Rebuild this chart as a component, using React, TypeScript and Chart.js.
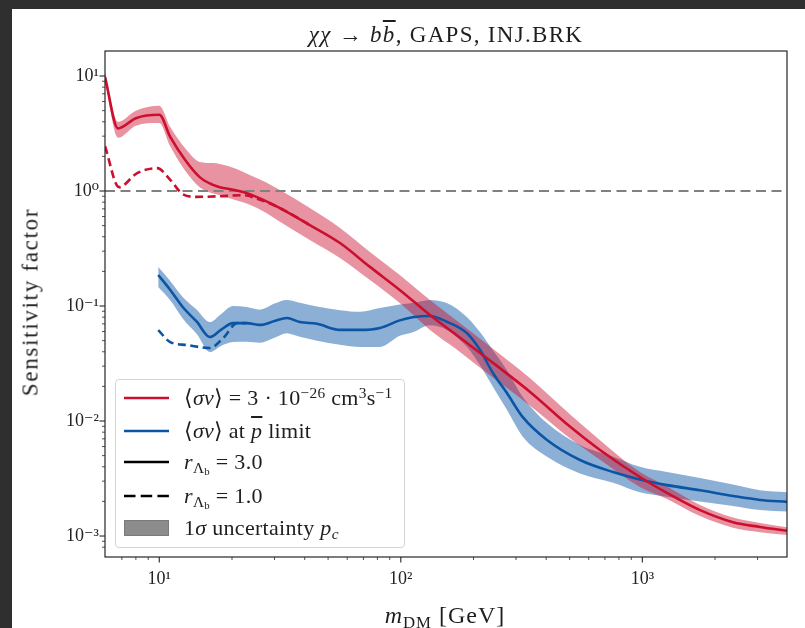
import React, { useEffect, useRef } from 'react';
import { Chart, registerables } from 'chart.js';

Chart.register(...registerables);

// ---- axis ranges ----
const X_MIN = 5.96;
const X_MAX = 3972;
const Y_MIN = 6.57e-4;
const Y_MAX = 16.5;

// ---- labelled major ticks ----
const xMajorTicks = [10, 100, 1000];
const yMajorTicks = [1e-3, 1e-2, 1e-1, 1, 10];

// ---- red: <σv> = 3e-26, r = 3.0 (solid) with 1σ band ----
const redX = [5.96, 6.75, 8.0, 10.0, 11.1, 12.8, 14.7, 16.7, 17.8, 20.5, 23.7, 27.5, 31.6, 42, 56, 74.5, 99, 132, 170, 213, 343, 500, 668, 977, 1265, 1734, 2373, 3070, 3972];
const redY = [9.8, 3.5, 4.3, 4.6, 2.95, 1.86, 1.32, 1.13, 1.08, 1.02, 0.94, 0.82, 0.71, 0.506, 0.353, 0.219, 0.138, 0.0835, 0.056, 0.039, 0.0179, 0.009, 0.0056, 0.00326, 0.00237, 0.00168, 0.00132, 0.0012, 0.00111];
const redUp = [10.8, 4.0, 5.0, 5.5, 3.6, 2.35, 1.79, 1.75, 1.72, 1.58, 1.38, 1.2, 1.02, 0.71, 0.477, 0.295, 0.186, 0.113, 0.075, 0.052, 0.0235, 0.0115, 0.0068, 0.0036, 0.0027, 0.00186, 0.00145, 0.0013, 0.00119];
const redLo = [8.9, 2.9, 3.7, 3.9, 2.45, 1.5, 1.08, 0.95, 0.92, 0.84, 0.76, 0.65, 0.54, 0.375, 0.262, 0.168, 0.106, 0.062, 0.042, 0.029, 0.0136, 0.0071, 0.0046, 0.00267, 0.0021, 0.00149, 0.00118, 0.00108, 0.00102];

// ---- red: r = 1.0 (dashed) ----
const redDashX = [5.96, 6.81, 8.1, 9.8, 11.1, 12.5, 14.3, 17.8, 22.2, 26.1, 31.6, 42];
const redDashY = [2.45, 1.08, 1.43, 1.58, 1.25, 0.94, 0.89, 0.9, 0.92, 0.84, 0.71, 0.506];

// ---- blue: <σv> at pbar limit, r = 3.0 (solid) with 1σ band ----
const blueX = [9.9, 11.1, 12.5, 14.3, 16.2, 18.0, 20.2, 23, 26.1, 30, 33.7, 38.2, 45, 56, 68, 82, 99, 112, 132, 155, 188, 213, 241, 275, 320, 403, 552, 757, 977, 1265, 1734, 2373, 3070, 3972];
const blueY = [0.186, 0.138, 0.098, 0.073, 0.0537, 0.062, 0.071, 0.071, 0.0685, 0.074, 0.0787, 0.0725, 0.07, 0.062, 0.062, 0.0645, 0.075, 0.08, 0.082, 0.073, 0.058, 0.0414, 0.026, 0.0175, 0.0108, 0.00684, 0.00458, 0.0036, 0.0031, 0.00277, 0.0025, 0.00223, 0.00206, 0.00198];
const blueUp = [0.218, 0.165, 0.12, 0.093, 0.0726, 0.085, 0.1, 0.098, 0.093, 0.105, 0.113, 0.107, 0.099, 0.092, 0.089, 0.096, 0.103, 0.106, 0.113, 0.106, 0.08, 0.059, 0.041, 0.0277, 0.0162, 0.0096, 0.0062, 0.0049, 0.004, 0.0036, 0.0032, 0.0028, 0.0025, 0.0024];
const blueLo = [0.146, 0.112, 0.078, 0.057, 0.0398, 0.045, 0.0486, 0.049, 0.048, 0.053, 0.058, 0.054, 0.05, 0.046, 0.044, 0.044, 0.055, 0.059, 0.068, 0.062, 0.044, 0.0306, 0.0198, 0.0125, 0.0073, 0.0049, 0.0035, 0.0029, 0.0024, 0.0022, 0.002, 0.00182, 0.00168, 0.00163];

// ---- blue: r = 1.0 (dashed) ----
const blueDashX = [9.9, 11.1, 13, 16.2, 18.4, 21, 23];
const blueDashY = [0.0618, 0.0486, 0.0458, 0.0431, 0.0527, 0.071, 0.071];

// ---- reference line ----
const refX = [X_MIN, X_MAX];
const refY = [1, 1];

const RED = '#cc0f2f';
const RED_BAND = 'rgba(204, 15, 47, 0.45)';
const BLUE = '#0a56a5';
const BLUE_BAND = 'rgba(10, 86, 165, 0.47)';
const FONT = '"Liberation Serif", "DejaVu Serif", serif';

const SUP: Record<string, string> = { '-': '⁻', '0': '⁰', '1': '¹', '2': '²', '3': '³', '4': '⁴', '5': '⁵', '6': '⁶', '7': '⁷', '8': '⁸', '9': '⁹' };
const sup = (n: number) => String(n).split('').map((c) => SUP[c] || c).join('');

const pts = (xs: number[], ys: number[]) => xs.map((x, i) => ({ x, y: ys[i] }));

const decadeLabel = (majors: number[]) => (value: any) => {
  const v = Number(value);
  const hit = majors.find((m) => Math.abs(v / m - 1) < 1e-6);
  if (hit === undefined) return '';
  return '10' + sup(Math.round(Math.log10(hit)));
};

const framePlugin = {
  id: 'frameTicks',
  afterDatasetsDraw(chart: any) {
    const { ctx, chartArea: a, scales } = chart;
    ctx.save();
    ctx.strokeStyle = '#262626';
    ctx.lineWidth = 1.2;
    ctx.strokeRect(a.left, a.top, a.right - a.left, a.bottom - a.top);
    const draw = (scale: any, horizontal: boolean) => {
      scale.ticks.forEach((t: any) => {
        const v = t.value;
        const e = Math.floor(Math.log10(v) + 1e-9);
        const sig = v / Math.pow(10, e);
        if (Math.abs(sig - Math.round(sig)) > 1e-6) return;
        const major = Math.abs(sig - 1) < 1e-6 || Math.abs(sig - 10) < 1e-6;
        const len = major ? 5.5 : 3;
        ctx.lineWidth = major ? 1.1 : 0.8;
        const p = scale.getPixelForValue(v);
        if (horizontal && (p < a.left + 1 || p > a.right - 1)) return;
        if (!horizontal && (p < a.top + 1 || p > a.bottom - 1)) return;
        ctx.beginPath();
        if (horizontal) {
          ctx.moveTo(p, a.bottom);
          ctx.lineTo(p, a.bottom + len);
        } else {
          ctx.moveTo(a.left, p);
          ctx.lineTo(a.left - len, p);
        }
        ctx.stroke();
      });
    };
    draw(scales.x, true);
    draw(scales.y, false);
    ctx.restore();
  },
};

const subStyle: React.CSSProperties = { fontSize: '0.7em', verticalAlign: '-0.28em', lineHeight: 0 };
const supStyle: React.CSSProperties = { fontSize: '0.7em', verticalAlign: '0.45em', lineHeight: 0 };

function LineHandle({ color, dash }: { color: string; dash?: boolean }) {
  return (
    <svg width={45} height={10} style={{ position: 'absolute', left: 8, top: 9 }}>
      <line x1={0} y1={5} x2={45} y2={5} stroke={color} strokeWidth={2.6} strokeDasharray={dash ? '11.5 5.2' : undefined} />
    </svg>
  );
}

export default function App() {
  const canvasRef = useRef<HTMLCanvasElement | null>(null);

  useEffect(() => {
    if (!canvasRef.current) return;
    const base = { pointRadius: 0, cubicInterpolationMode: 'monotone' as const, spanGaps: true };
    const chart = new Chart(canvasRef.current, {
      type: 'line',
      data: {
        datasets: [
          { ...base, data: pts(redX, redLo), borderWidth: 0, borderColor: 'rgba(0,0,0,0)', fill: false, order: 3 },
          { ...base, data: pts(redX, redUp), borderWidth: 0, borderColor: 'rgba(0,0,0,0)', backgroundColor: RED_BAND, fill: '-1', order: 3 },
          { ...base, data: pts(blueX, blueLo), borderWidth: 0, borderColor: 'rgba(0,0,0,0)', fill: false, order: 3 },
          { ...base, data: pts(blueX, blueUp), borderWidth: 0, borderColor: 'rgba(0,0,0,0)', backgroundColor: BLUE_BAND, fill: '-1', order: 3 },
          { ...base, data: pts(refX, refY), borderColor: '#808080', borderWidth: 2, borderDash: [10, 5.5], fill: false, order: 2 },
          { ...base, data: pts(redX, redY), borderColor: RED, borderWidth: 2.6, fill: false, order: 1 },
          { ...base, data: pts(redDashX, redDashY), borderColor: RED, borderWidth: 2.6, borderDash: [8, 4.5], fill: false, order: 1 },
          { ...base, data: pts(blueX, blueY), borderColor: BLUE, borderWidth: 2.6, fill: false, order: 1 },
          { ...base, data: pts(blueDashX, blueDashY), borderColor: BLUE, borderWidth: 2.6, borderDash: [8, 4.5], fill: false, order: 1 },
        ],
      },
      options: {
        animation: false,
        responsive: false,
        maintainAspectRatio: false,
        layout: { padding: { left: 0, top: 51, right: 18, bottom: 0 } },
        plugins: {
          legend: { display: false },
          title: { display: false },
          tooltip: { enabled: false },
        },
        events: [],
        scales: {
          x: {
            type: 'logarithmic',
            min: X_MIN,
            max: X_MAX,
            grid: { display: false, drawTicks: false },
            border: { display: false },
            ticks: {
              autoSkip: false,
              maxRotation: 0,
              minRotation: 0,
              padding: 11,
              color: '#222',
              font: { family: FONT, size: 18 },
              callback: decadeLabel(xMajorTicks),
            },
            afterFit: (s: any) => {
              s.height = 71;
            },
          },
          y: {
            type: 'logarithmic',
            min: Y_MIN,
            max: Y_MAX,
            grid: { display: false, drawTicks: false },
            border: { display: false },
            ticks: {
              autoSkip: false,
              padding: 6,
              color: '#222',
              font: { family: FONT, size: 18 },
              callback: decadeLabel(yMajorTicks),
            },
            afterFit: (s: any) => {
              s.width = 105;
            },
          },
        },
      } as any,
      plugins: [framePlugin],
    });
    return () => chart.destroy();
  }, []);

  const rowTop = (c: number) => c - 379 - 14;

  return (
    <div style={{ position: 'fixed', left: 0, top: 0, width: 805, height: 628, background: '#2f2f2f', overflow: 'hidden', fontFamily: FONT, color: '#1e1e1e' }}>
      <div style={{ position: 'absolute', left: 12, top: 9, right: 0, bottom: 0, background: '#ffffff' }} />
      <canvas ref={canvasRef} width={805} height={628} style={{ position: 'absolute', left: 0, top: 0, width: 805, height: 628 }} />

      {/* title */}
      <div style={{ position: 'absolute', left: 446, top: 23, transform: 'translateX(-50%)', whiteSpace: 'nowrap', fontSize: 23, lineHeight: 1, letterSpacing: 1.3 }}>
        <span style={{ fontStyle: 'italic' }}>χχ</span> → <span style={{ fontStyle: 'italic' }}>b<span style={{ textDecoration: 'overline' }}>b</span></span>, GAPS, INJ.BRK
      </div>

      {/* y axis title */}
      <div style={{ position: 'absolute', left: 30, top: 302, transform: 'translate(-50%, -50%) rotate(-90deg)', whiteSpace: 'nowrap', fontSize: 23, lineHeight: 1, letterSpacing: 1.7 }}>
        Sensitivity factor
      </div>

      {/* x axis title */}
      <div style={{ position: 'absolute', left: 445, top: 603, transform: 'translateX(-50%)', whiteSpace: 'nowrap', fontSize: 24, lineHeight: 1, letterSpacing: 1 }}>
        <span style={{ fontStyle: 'italic' }}>m</span>
        <span style={subStyle}>DM</span> [GeV]
      </div>

      {/* legend */}
      <div style={{ position: 'absolute', left: 115, top: 379, width: 290, height: 169, boxSizing: 'border-box', border: '1px solid #d4d4d4', borderRadius: 4, background: 'rgba(255,255,255,0.85)', fontSize: 22, letterSpacing: 0.3 }}>
        <div style={{ position: 'absolute', left: 0, top: rowTop(397), height: 28, width: '100%' }}>
          <LineHandle color={RED} />
          <div style={{ position: 'absolute', left: 68, top: 3, whiteSpace: 'nowrap', lineHeight: 1 }}>
            ⟨<i>σv</i>⟩ = 3 · 10<span style={supStyle}>−26</span> cm<span style={supStyle}>3</span>s<span style={supStyle}>−1</span>
          </div>
        </div>
        <div style={{ position: 'absolute', left: 0, top: rowTop(430), height: 28, width: '100%' }}>
          <LineHandle color={BLUE} />
          <div style={{ position: 'absolute', left: 68, top: 3, whiteSpace: 'nowrap', lineHeight: 1 }}>
            ⟨<i>σv</i>⟩ at <i><span style={{ textDecoration: 'overline' }}>p</span></i> limit
          </div>
        </div>
        <div style={{ position: 'absolute', left: 0, top: rowTop(461), height: 28, width: '100%' }}>
          <LineHandle color="#000" />
          <div style={{ position: 'absolute', left: 68, top: 3, whiteSpace: 'nowrap', lineHeight: 1 }}>
            <i>r</i>
            <span style={subStyle}>
              Λ<span style={{ fontSize: '0.7em', verticalAlign: '-0.2em' }}>b</span>
            </span>{' '}
            = 3.0
          </div>
        </div>
        <div style={{ position: 'absolute', left: 0, top: rowTop(495), height: 28, width: '100%' }}>
          <LineHandle color="#000" dash />
          <div style={{ position: 'absolute', left: 68, top: 3, whiteSpace: 'nowrap', lineHeight: 1 }}>
            <i>r</i>
            <span style={subStyle}>
              Λ<span style={{ fontSize: '0.7em', verticalAlign: '-0.2em' }}>b</span>
            </span>{' '}
            = 1.0
          </div>
        </div>
        <div style={{ position: 'absolute', left: 0, top: rowTop(527), height: 28, width: '100%' }}>
          <div style={{ position: 'absolute', left: 8, top: 6, width: 45, height: 16, boxSizing: 'border-box', background: '#8c8c8c', border: '1px solid #7a7a7a' }} />
          <div style={{ position: 'absolute', left: 68, top: 3, whiteSpace: 'nowrap', lineHeight: 1 }}>
            1<i>σ</i> uncertainty <i>p</i>
            <span style={{ ...subStyle, fontStyle: 'italic' }}>c</span>
          </div>
        </div>
      </div>
    </div>
  );
}
